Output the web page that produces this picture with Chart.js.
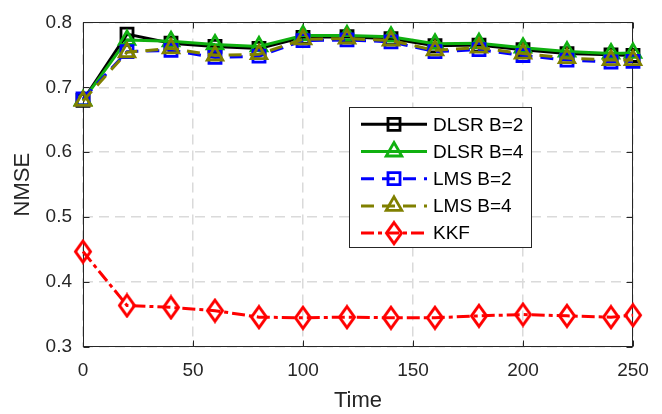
<!DOCTYPE html>
<html>
<head>
<meta charset="utf-8">
<script src="https://cdn.jsdelivr.net/npm/chart.js@4/dist/chart.umd.min.js"></script>
<style>
  html, body { margin: 0; padding: 0; background: #fff; }
  canvas { display: block; }
</style>
</head>
<body>
<canvas id="nmseChart" width="662" height="414"></canvas>
<script>
// Time axis samples
const timeSteps = [0, 20, 40, 60, 80, 100, 120, 140, 160, 180, 200, 220, 240, 250];

// NMSE values
const dlsrB2 = [0.680, 0.782, 0.768, 0.763, 0.760, 0.777, 0.778, 0.775, 0.764, 0.765, 0.758, 0.752, 0.750, 0.749];
const dlsrB4 = [0.680, 0.773, 0.771, 0.766, 0.763, 0.780, 0.780, 0.778, 0.767, 0.768, 0.761, 0.755, 0.752, 0.753];
const lmsB2  = [0.682, 0.755, 0.757, 0.746, 0.748, 0.772, 0.773, 0.770, 0.755, 0.758, 0.749, 0.742, 0.739, 0.740];
const lmsB4  = [0.679, 0.754, 0.760, 0.749, 0.751, 0.774, 0.775, 0.772, 0.757, 0.761, 0.752, 0.745, 0.742, 0.742];
const kkf    = [0.447, 0.364, 0.361, 0.356, 0.346, 0.345, 0.346, 0.345, 0.345, 0.348, 0.350, 0.348, 0.346, 0.349];

const xTicks = [0, 50, 100, 150, 200, 250];
const yTicks = [0.3, 0.4, 0.5, 0.6, 0.7, 0.8];

const FONT = '"Liberation Sans", Arial, sans-serif';
const TEXT = '#262626';

// MATLAB style diamond (taller than wide), unfilled
function makeDiamond(color) {
  const c = document.createElement("canvas");
  c.width = 20;
  c.height = 26;
  const g = c.getContext("2d");
  g.strokeStyle = color;
  g.lineWidth = 3;
  g.lineJoin = "miter";
  g.beginPath();
  g.moveTo(10, 2.5);
  g.lineTo(17.5, 13);
  g.lineTo(10, 23.5);
  g.lineTo(2.5, 13);
  g.closePath();
  g.stroke();
  return c;
}

function series(label, values, color, dash, pointStyle, radius, order) {
  return {
    label: label,
    data: timeSteps.map((t, i) => ({ x: t, y: values[i] })),
    borderColor: color,
    borderWidth: 3,
    borderDash: dash,
    pointStyle: pointStyle,
    pointRadius: radius,
    pointBorderWidth: 2.8,
    pointBorderColor: color,
    pointBackgroundColor: "transparent",
    tension: 0,
    clip: false,
    order: order
  };
}

const datasets = [
  series("DLSR B=2", dlsrB2, "#000000", [], "rect", 8.5, 5),
  series("DLSR B=4", dlsrB4, "#10b010", [], "triangle", 9, 4),
  series("LMS B=2", lmsB2, "#0000ff", [13, 8], "rect", 8.5, 3),
  series("LMS B=4", lmsB4, "#808000", [13, 8], "triangle", 9, 2),
  series("KKF", kkf, "#ff0000", [13, 4, 4, 4], makeDiamond("#ff0000"), 10, 1)
];

// box + inward tick marks, like MATLAB axes
const matlabAxes = {
  id: "matlabAxes",
  beforeDatasetsDraw(chart) {
    const { ctx, chartArea: a, scales } = chart;
    const l = Math.round(a.left) + 0.5, r = Math.round(a.right) - 0.5;
    const t = Math.round(a.top) + 0.5, b = Math.round(a.bottom) - 0.5;
    ctx.save();
    ctx.setLineDash([]);
    ctx.strokeStyle = TEXT;
    ctx.lineWidth = 1;
    ctx.strokeRect(l, t, r - l, b - t);
    ctx.beginPath();
    xTicks.forEach(v => {
      const px = Math.round(scales.x.getPixelForValue(v)) + 0.5;
      ctx.moveTo(px, b); ctx.lineTo(px, b - 6);
      ctx.moveTo(px, t); ctx.lineTo(px, t + 6);
    });
    yTicks.forEach(v => {
      const py = Math.round(scales.y.getPixelForValue(v)) + 0.5;
      ctx.moveTo(l, py); ctx.lineTo(l + 6, py);
      ctx.moveTo(r, py); ctx.lineTo(r - 6, py);
    });
    ctx.stroke();
    ctx.restore();
  }
};

// legend drawn inside the axes
const boxLegend = {
  id: "boxLegend",
  afterDraw(chart) {
    const ctx = chart.ctx;
    const box = { x: 349, y: 107, w: 182, h: 140 };
    const rowY = [124.3, 151.5, 178.7, 205.9, 233.1];
    ctx.save();
    ctx.fillStyle = "#ffffff";
    ctx.fillRect(box.x, box.y, box.w, box.h);
    ctx.strokeStyle = TEXT;
    ctx.lineWidth = 1;
    ctx.setLineDash([]);
    ctx.strokeRect(box.x + 0.5, box.y + 0.5, box.w, box.h);

    datasets.forEach((ds, i) => {
      const y = rowY[i];
      ctx.strokeStyle = ds.borderColor;
      ctx.lineWidth = ds.borderWidth;
      ctx.setLineDash(ds.borderDash);
      ctx.beginPath();
      ctx.moveTo(361, y);
      ctx.lineTo(427, y);
      ctx.stroke();
      ctx.setLineDash([]);
      ctx.fillStyle = "rgba(0,0,0,0)";
      ctx.lineWidth = ds.pointBorderWidth;
      Chart.helpers.drawPoint(ctx, {
        pointStyle: ds.pointStyle,
        radius: ds.pointRadius,
        borderWidth: ds.pointBorderWidth,
        rotation: 0
      }, 394, y);

      ctx.fillStyle = "#000000";
      ctx.font = "19px " + FONT;
      ctx.textAlign = "left";
      ctx.textBaseline = "middle";
      ctx.fillText(ds.label, 433, y + 1);
    });
    ctx.restore();
  }
};

Chart.defaults.font.family = FONT;

new Chart(document.getElementById("nmseChart"), {
  type: "line",
  data: { datasets: datasets },
  options: {
    responsive: false,
    animation: false,
    devicePixelRatio: 1,
    layout: { padding: { left: 0, top: 15, right: 29, bottom: 0 } },
    plugins: {
      legend: { display: false },
      tooltip: { enabled: false }
    },
    scales: {
      x: {
        type: "linear",
        min: 0,
        max: 250,
        afterBuildTicks: s => { s.ticks = xTicks.map(v => ({ value: v })); },
        afterFit: s => { s.height = 67; },
        ticks: {
          color: TEXT,
          font: { size: 19 },
          padding: 12,
          maxRotation: 0
        },
        grid: {
          drawTicks: false,
          color: "#dadada",
          lineWidth: 1.5
        },
        border: { display: false, dash: [10, 6] },
        title: {
          display: true,
          text: "Time",
          color: TEXT,
          font: { size: 22 },
          padding: { top: 0, bottom: 0 }
        }
      },
      y: {
        type: "linear",
        min: 0.3,
        max: 0.8,
        afterBuildTicks: s => { s.ticks = yTicks.map(v => ({ value: v })); },
        afterFit: s => { s.width = 83; },
        ticks: {
          color: TEXT,
          font: { size: 19 },
          padding: 11,
          callback: v => v.toFixed(1)
        },
        grid: {
          drawTicks: false,
          color: "#dadada",
          lineWidth: 1.5
        },
        border: { display: false, dash: [10, 6] },
        title: {
          display: true,
          text: "NMSE",
          color: TEXT,
          font: { size: 22 },
          padding: { top: 10, bottom: 0 }
        }
      }
    }
  },
  plugins: [matlabAxes, boxLegend]
});
</script>
</body>
</html>
